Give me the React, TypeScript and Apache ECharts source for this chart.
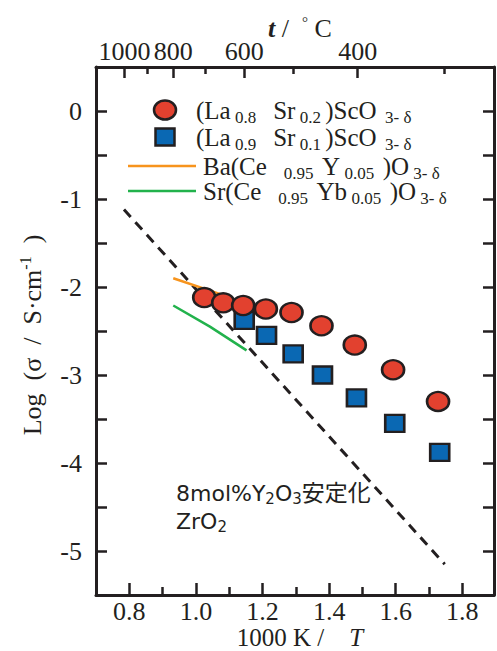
import React, { useEffect, useRef } from 'react';
import * as echarts from 'echarts';

// (La0.8Sr0.2)ScO3-δ  [1000K/T, log σ]
const lsco82: number[][] = [
  [1.025, -2.12], [1.082, -2.18], [1.142, -2.21], [1.210, -2.25], [1.287, -2.29],
  [1.377, -2.44], [1.477, -2.66], [1.592, -2.94], [1.727, -3.30],
];
// (La0.9Sr0.1)ScO3-δ
const lsco91: number[][] = [
  [1.145, -2.38], [1.212, -2.55], [1.292, -2.76], [1.380, -3.00], [1.482, -3.26],
  [1.597, -3.55], [1.732, -3.88],
];
// Ba(Ce0.95Y0.05)O3-δ
const bcy: number[][] = [[0.932, -1.90], [1.08, -2.09]];
// Sr(Ce0.95Yb0.05)O3-δ
const scyb: number[][] = [[0.932, -2.21], [1.042, -2.45], [1.152, -2.72]];
// 8mol%Y2O3 stabilized ZrO2
const ysz: number[][] = [[0.784, -1.12], [1.747, -5.15]];

const bottomMajorTicks = [0.8, 1.0, 1.2, 1.4, 1.6, 1.8];
const bottomMinorTicks = [0.9, 1.1, 1.3, 1.5, 1.7];
const topMajorTemps = [1000, 800, 600, 400];
const topMinorTemps = [900, 700, 500, 300];

const DARK = '#231f20';
const RED = '#e2412f';
const BLUE = '#0a68b3';
const ORANGE = '#f7941d';
const GREEN = '#22b24c';
const SERIF = '"Liberation Serif", "Times New Roman", serif';
const SANS = '"DejaVu Sans", "Noto Sans CJK JP", sans-serif';

const toInv = (t: number) => 1000 / (t + 273.15);

export default function App() {
  const ref = useRef<HTMLDivElement>(null);

  useEffect(() => {
    if (!ref.current) return;
    const chart = echarts.init(ref.current, undefined, { renderer: 'svg' });

    const X_MIN = 0.7;
    const X_MAX = 1.895;

    const baseX = {
      type: 'value' as const,
      min: X_MIN,
      max: X_MAX,
      splitLine: { show: false },
    };

    const legendMain = { fontSize: 25, fontFamily: SERIF, fill: DARK, verticalAlign: 'middle' };
    const legendSub = { fontSize: 17, fontFamily: SERIF, fill: DARK, verticalAlign: 'middle', padding: [14, 0, 0, 0] };

    const option: any = {
      animation: false,
      backgroundColor: '#ffffff',
      grid: { left: 96, top: 67, width: 398, height: 528, containLabel: false },
      xAxis: [
        {
          ...baseX,
          position: 'bottom',
          axisLine: { show: true, onZero: false, lineStyle: { color: DARK, width: 3 } },
          axisTick: {
            show: true, inside: true, length: 12, customValues: bottomMajorTicks,
            lineStyle: { color: DARK, width: 2.5 },
          },
          axisLabel: {
            show: true, customValues: bottomMajorTicks, margin: 4,
            formatter: (v: number) => v.toFixed(1),
            fontSize: 26, lineHeight: 24, fontFamily: SERIF, color: DARK,
          },
        },
        {
          ...baseX,
          position: 'bottom',
          axisLine: { show: false, onZero: false },
          axisTick: {
            show: true, inside: true, length: 8, customValues: bottomMinorTicks,
            lineStyle: { color: DARK, width: 2.5 },
          },
          axisLabel: { show: false },
        },
        {
          ...baseX,
          position: 'top',
          axisLine: { show: true, onZero: false, lineStyle: { color: DARK, width: 3 } },
          axisTick: {
            show: true, inside: true, length: 11, customValues: topMajorTemps.map(toInv),
            lineStyle: { color: DARK, width: 2.5 },
          },
          axisLabel: {
            show: true, customValues: topMajorTemps.map(toInv), margin: 4,
            formatter: (v: number) => String(Math.round(1000 / v - 273.15)),
            fontSize: 26, lineHeight: 24, fontFamily: SERIF, color: DARK,
          },
        },
        {
          ...baseX,
          position: 'top',
          axisLine: { show: false, onZero: false },
          axisTick: {
            show: true, inside: true, length: 7, customValues: topMinorTemps.map(toInv),
            lineStyle: { color: DARK, width: 2.5 },
          },
          axisLabel: { show: false },
        },
      ],
      yAxis: [
        {
          type: 'value', min: -5.5, max: 0.5, interval: 0.5, position: 'left',
          splitLine: { show: false },
          axisLine: { show: true, onZero: false, lineStyle: { color: DARK, width: 3 } },
          axisTick: { show: true, inside: true, length: 11, lineStyle: { color: DARK, width: 2.5 } },
          axisLabel: {
            show: true, margin: 14, fontSize: 26, fontFamily: SERIF, color: DARK,
            formatter: (v: number) => (Math.abs(v - Math.round(v)) < 1e-6 ? String(Math.round(v)) : ''),
          },
        },
        {
          type: 'value', min: -5.5, max: 0.5, interval: 0.5, position: 'right',
          splitLine: { show: false },
          axisLine: { show: true, onZero: false, lineStyle: { color: DARK, width: 3 } },
          axisTick: { show: true, inside: true, length: 11, lineStyle: { color: DARK, width: 2.5 } },
          axisLabel: { show: false },
        },
      ],
      series: [
        {
          name: '8mol%Y2O3安定化ZrO2', type: 'line', data: ysz, xAxisIndex: 0, yAxisIndex: 0,
          showSymbol: false, symbol: 'none', z: 1,
          lineStyle: { color: DARK, width: 3, type: [10, 7] },
        },
        {
          name: 'Ba(Ce0.95Y0.05)O3-δ', type: 'line', data: bcy, xAxisIndex: 0, yAxisIndex: 0,
          showSymbol: false, symbol: 'none', z: 2,
          lineStyle: { color: ORANGE, width: 2.5 },
        },
        {
          name: 'Sr(Ce0.95Yb0.05)O3-δ', type: 'line', data: scyb, xAxisIndex: 0, yAxisIndex: 0,
          showSymbol: false, symbol: 'none', z: 2,
          lineStyle: { color: GREEN, width: 2.5 },
        },
        {
          name: '(La0.9Sr0.1)ScO3-δ', type: 'scatter', data: lsco91, xAxisIndex: 0, yAxisIndex: 0,
          symbol: 'rect', symbolSize: [19, 17], z: 3,
          itemStyle: { color: BLUE, borderColor: DARK, borderWidth: 2.5, opacity: 1 },
        },
        {
          name: '(La0.8Sr0.2)ScO3-δ', type: 'scatter', data: lsco82, xAxisIndex: 0, yAxisIndex: 0,
          symbol: 'circle', symbolSize: [22, 19], z: 4,
          itemStyle: { color: RED, borderColor: DARK, borderWidth: 2.5, opacity: 1 },
        },
      ],
      graphic: [
        // axis titles
        {
          type: 'text', x: 300, y: 28, z: 10,
          style: {
            text: '{ti|t}{m| /  }{deg|°}{m| C}',
            textAlign: 'center', textVerticalAlign: 'middle', align: 'center', verticalAlign: 'middle',
            fill: DARK,
            rich: {
              ti: { fontSize: 26, fontFamily: SERIF, fontWeight: 'bold', fontStyle: 'italic', fill: DARK, verticalAlign: 'middle' },
              m: { fontSize: 26, fontFamily: SERIF, fill: DARK, verticalAlign: 'middle' },
              deg: { fontSize: 15, fontFamily: SERIF, fill: DARK, verticalAlign: 'middle', padding: [0, 0, 12, 0] },
            },
          },
        },
        {
          type: 'text', x: 300, y: 637, z: 10,
          style: {
            text: '{m|1000 K /    }{it|T}',
            textAlign: 'center', textVerticalAlign: 'middle', align: 'center', verticalAlign: 'middle',
            fill: DARK,
            rich: {
              m: { fontSize: 25, lineHeight: 24, fontFamily: SERIF, fill: DARK, verticalAlign: 'middle' },
              it: { fontSize: 25, lineHeight: 24, fontFamily: SERIF, fontStyle: 'italic', fill: DARK, verticalAlign: 'middle' },
            },
          },
        },
        {
          type: 'text', x: 32, y: 335, rotation: Math.PI / 2, z: 10,
          style: {
            text: '{m|Log  (σ  /  S·cm}{sup|-1}{m|  )}',
            textAlign: 'center', textVerticalAlign: 'middle', align: 'center', verticalAlign: 'middle',
            fill: DARK,
            rich: {
              m: { fontSize: 26, fontFamily: SERIF, fill: DARK, verticalAlign: 'middle' },
              sup: { fontSize: 16, fontFamily: SERIF, fill: DARK, verticalAlign: 'middle', padding: [0, 0, 14, 0] },
            },
          },
        },
        // legend
        {
          type: 'ellipse', shape: { cx: 165, cy: 110, rx: 11, ry: 9.5 }, z: 10,
          style: { fill: RED, stroke: DARK, lineWidth: 2.5 },
        },
        {
          type: 'rect', shape: { x: 155.5, y: 128.5, width: 19, height: 17 }, z: 10,
          style: { fill: BLUE, stroke: DARK, lineWidth: 2.5 },
        },
        {
          type: 'line', shape: { x1: 128, y1: 166, x2: 196, y2: 166 }, z: 10,
          style: { stroke: ORANGE, lineWidth: 2.5 },
        },
        {
          type: 'line', shape: { x1: 128, y1: 191, x2: 196, y2: 191 }, z: 10,
          style: { stroke: GREEN, lineWidth: 2.5 },
        },
        {
          type: 'text', x: 196, y: 110, z: 10,
          style: {
            text: '{m|(La}{s| 0.8    }{m|Sr}{s| 0.2 }{m|)ScO}{s|  3- δ}',
            textAlign: 'left', textVerticalAlign: 'middle', align: 'left', verticalAlign: 'middle',
            fill: DARK, rich: { m: legendMain, s: legendSub },
          },
        },
        {
          type: 'text', x: 196, y: 137, z: 10,
          style: {
            text: '{m|(La}{s| 0.9    }{m|Sr}{s| 0.1 }{m|)ScO}{s|  3- δ}',
            textAlign: 'left', textVerticalAlign: 'middle', align: 'left', verticalAlign: 'middle',
            fill: DARK, rich: { m: legendMain, s: legendSub },
          },
        },
        {
          type: 'text', x: 203, y: 166, z: 10,
          style: {
            text: '{m|Ba(Ce}{s|    0.95  }{m|Y}{s| 0.05  }{m|)O}{s| 3- δ}',
            textAlign: 'left', textVerticalAlign: 'middle', align: 'left', verticalAlign: 'middle',
            fill: DARK, rich: { m: legendMain, s: legendSub },
          },
        },
        {
          type: 'text', x: 203, y: 191, z: 10,
          style: {
            text: '{m|Sr(Ce}{s|    0.95  }{m|Yb}{s| 0.05  }{m|)O}{s| 3- δ}',
            textAlign: 'left', textVerticalAlign: 'middle', align: 'left', verticalAlign: 'middle',
            fill: DARK, rich: { m: legendMain, s: legendSub },
          },
        },
        // annotation
        {
          type: 'text', x: 176, y: 493, z: 10,
          style: {
            text: '{a|8mol%Y}{b|2}{a|O}{b|3}{c|安定化}',
            textAlign: 'left', textVerticalAlign: 'middle', align: 'left', verticalAlign: 'middle',
            fill: DARK,
            rich: {
              a: { fontSize: 22, fontFamily: SANS, fill: DARK, verticalAlign: 'middle' },
              b: { fontSize: 15, fontFamily: SANS, fill: DARK, verticalAlign: 'middle', padding: [12, 0, 0, 0] },
              c: { fontSize: 23, fontFamily: SANS, fill: DARK, verticalAlign: 'middle' },
            },
          },
        },
        {
          type: 'text', x: 176, y: 521, z: 10,
          style: {
            text: '{a|ZrO}{b|2}',
            textAlign: 'left', textVerticalAlign: 'middle', align: 'left', verticalAlign: 'middle',
            fill: DARK,
            rich: {
              a: { fontSize: 22, fontFamily: SANS, fill: DARK, verticalAlign: 'middle' },
              b: { fontSize: 15, fontFamily: SANS, fill: DARK, verticalAlign: 'middle', padding: [12, 0, 0, 0] },
            },
          },
        },
      ],
    };

    chart.setOption(option);
    return () => chart.dispose();
  }, []);

  return (
    <div
      ref={ref}
      style={{ position: 'fixed', left: 0, top: 0, width: 497, height: 651, background: '#fff' }}
    />
  );
}
